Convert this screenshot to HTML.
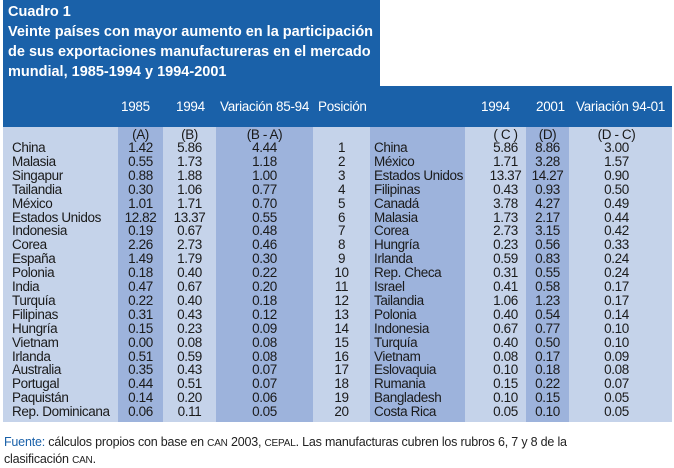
<!DOCTYPE html>
<html><head><meta charset="utf-8"><style>
body{margin:0;width:674px;height:468px;background:#fff;position:relative;overflow:hidden;font-family:"Liberation Sans",sans-serif}
.t{position:absolute;left:3px;top:0;width:377px;height:88px;background:#1a61a9;color:#fff;font-weight:bold;font-size:14.5px;line-height:20px;padding:2px 0 0 5px;box-sizing:border-box}
.h{position:absolute;left:3px;top:86px;width:669px;height:41px;background:#1a61a9}
.col{position:absolute;top:127px;height:295px}
.c{position:absolute;font-size:13.5px;line-height:14px;color:#1a1a1a;letter-spacing:-0.4px;white-space:nowrap}
.hd{position:absolute;top:99px;color:#fff;font-size:13.5px;letter-spacing:-0.3px;white-space:nowrap}
.f{position:absolute;left:4px;font-size:12.5px;color:#222;letter-spacing:-0.2px}
</style></head><body>
<div class="t">Cuadro 1<br>Veinte países con mayor aumento en la participación<br>de sus exportaciones manufactureras en el mercado<br>mundial, 1985-1994 y 1994-2001</div>
<div class="h"></div>
<div id="cols"></div>
<div class="hd" style="left:121px">1985</div>
<div class="hd" style="left:176px">1994</div>
<div class="hd" style="left:220px">Variación 85-94</div>
<div class="hd" style="left:318px">Posición</div>
<div class="hd" style="left:481px">1994</div>
<div class="hd" style="left:536px">2001</div>
<div class="hd" style="left:576px">Variación 94-01</div>
<div id="body"></div>
<div class="f" style="top:435px"><span style="color:#1a61a9">Fuente:</span> cálculos propios con base en <span style="font-size:10px">CAN</span> 2003, <span style="font-size:10px">CEPAL</span>. Las manufacturas cubren los rubros 6, 7 y 8 de la</div>
<div class="f" style="top:452px">clasificación <span style="font-size:10px">CAN</span>.</div>
<script>
const countriesA=["China","Malasia","Singapur","Tailandia","México","Estados Unidos","Indonesia","Corea","España","Polonia","India","Turquía","Filipinas","Hungría","Vietnam","Irlanda","Australia","Portugal","Paquistán","Rep. Dominicana"];
const v1985=["1.42","0.55","0.88","0.30","1.01","12.82","0.19","2.26","1.49","0.18","0.47","0.22","0.31","0.15","0.00","0.51","0.35","0.44","0.14","0.06"];
const v1994a=["5.86","1.73","1.88","1.06","1.71","13.37","0.67","2.73","1.79","0.40","0.67","0.40","0.43","0.23","0.08","0.59","0.43","0.51","0.20","0.11"];
const varA=["4.44","1.18","1.00","0.77","0.70","0.55","0.48","0.46","0.30","0.22","0.20","0.18","0.12","0.09","0.08","0.08","0.07","0.07","0.06","0.05"];
const countriesB=["China","México","Estados Unidos","Filipinas","Canadá","Malasia","Corea","Hungría","Irlanda","Rep. Checa","Israel","Tailandia","Polonia","Indonesia","Turquía","Vietnam","Eslovaquia","Rumania","Bangladesh","Costa Rica"];
const v1994b=["5.86","1.71","13.37","0.43","3.78","1.73","2.73","0.23","0.59","0.31","0.41","1.06","0.40","0.67","0.40","0.08","0.10","0.15","0.10","0.05"];
const v2001=["8.86","3.28","14.27","0.93","4.27","2.17","3.15","0.56","0.83","0.55","0.58","1.23","0.54","0.77","0.50","0.17","0.18","0.22","0.15","0.10"];
const varB=["3.00","1.57","0.90","0.50","0.49","0.44","0.42","0.33","0.24","0.24","0.17","0.17","0.14","0.10","0.10","0.09","0.08","0.07","0.05","0.05"];
const L='#c5d3ea',D='#9db3dc';
const cols=[
 {x:3,w:115,bg:L,name:'col-country-a',data:countriesA,align:'left',pad:9,sub:''},
 {x:118,w:45,bg:D,name:'col-1985',data:v1985,align:'center',sub:'(A)'},
 {x:163,w:53,bg:L,name:'col-1994-a',data:v1994a,align:'center',sub:'(B)'},
 {x:216,w:97,bg:D,name:'col-var-85-94',data:varA,align:'center',sub:'(B - A)'},
 {x:313,w:57,bg:L,name:'col-posicion',data:countriesA.map((_,i)=>String(i+1)),align:'center',sub:''},
 {x:370,w:95,bg:D,name:'col-country-b',data:countriesB,align:'left',pad:4,sub:''},
 {x:465,w:61,bg:L,name:'col-1994-b',data:v1994b,align:'center',sub:'( C )',dx:10},
 {x:526,w:43,bg:D,name:'col-2001',data:v2001,align:'center',sub:'(D)'},
 {x:569,w:103,bg:L,name:'col-var-94-01',data:varB,align:'center',sub:'(D - C)',dx:-4}
];
const cd=document.getElementById('cols'),bd=document.getElementById('body');
const rowY=i=>141+i*13.9;
cols.forEach(c=>{
 const el=document.createElement('div');el.className='col';
 el.style.left=c.x+'px';el.style.width=c.w+'px';el.style.background=c.bg;
 
 
 cd.appendChild(el);
 const add=(txt,y,nm)=>{
  const t=document.createElement('div');t.className='c';t.textContent=txt;
  t.style.top=y+'px';
  if(c.align==='left'){t.style.left=(c.x+c.pad)+'px';}
  else{t.style.left=(c.x+(c.dx||0))+'px';t.style.width=c.w+'px';t.style.textAlign='center';}
  
  
  bd.appendChild(t);
 };
 if(c.sub)add(c.sub,128,c.name+'-label');
 c.data.forEach((v,i)=>add(v,rowY(i),c.name+'-cell'));
});
</script>
</body></html>
